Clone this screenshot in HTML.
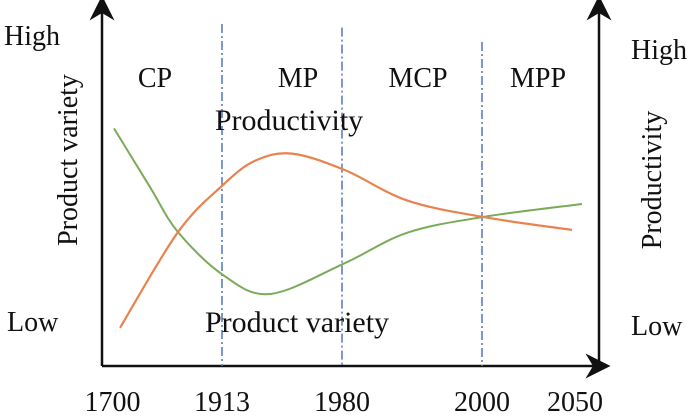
<!DOCTYPE html>
<html><head><meta charset="utf-8"><style>
body{margin:0;background:#fff;}
svg{display:block;font-family:"Liberation Serif",serif;}
</style></head><body>
<svg width="693" height="420" viewBox="0 0 693 420">
<defs><marker id="ar" markerWidth="10" markerHeight="10" refX="5" refY="5" orient="auto"><path d="M0,0 L10,5 L0,10 L3,5 Z" fill="#111"/></marker></defs>
<g id="axes">
<line x1="102" y1="366" x2="102" y2="8" stroke="#111" stroke-width="2.5" marker-end="url(#ar)"/>
<line x1="599" y1="366" x2="599" y2="8" stroke="#111" stroke-width="2.5" marker-end="url(#ar)"/>
<line x1="102" y1="366" x2="598" y2="366" stroke="#111" stroke-width="2.5" marker-end="url(#ar)"/>
</g>
<g id="dividers"></g>
<g id="ticks" font-size="28" fill="#111" text-anchor="middle"></g>
<g id="periods" font-size="28" fill="#111" text-anchor="middle"></g>
<g id="series"></g>
<g font-size="28" fill="#111">
<text x="4" y="45">High</text>
<text x="7" y="331">Low</text>
<text transform="translate(77,160) rotate(-90)" text-anchor="middle">Product variety</text>
<text x="631" y="59">High</text>
<text x="631" y="335">Low</text>
<text transform="translate(661,180) rotate(-90)" text-anchor="middle">Productivity</text>
<text x="289" y="130" text-anchor="middle" font-size="30">Productivity</text>
<text x="297" y="332" text-anchor="middle" font-size="30">Product variety</text>
</g>
</svg>
<script>
const tickLabels=["1700","1913","1980","2000","2050"];
const tickPos=[2.5,24.4,48.4,76.4,95];
const dividerPos=[24.4,48.4,76.4];
const dividerTop=[95,94,90];
const periods=["CP","MP","MCP","MPP"];
const periodPos=[11,39.6,63.6,87.6];
const prodT=[4,15.6,24.6,31,38.4,49,61.4,76.6,94.4];
const prodV=[10.6,37.2,50.3,57,59,54.4,46,41.4,37.8];
const varT=[2.8,10,15.6,24.6,34,49,61.4,76.6,96.4];
const varV=[66,49.7,37.2,25.3,20,28.6,37,41.4,45];
const X=t=>100+5*t, Y=v=>366-3.6*v;
const NS="http://www.w3.org/2000/svg";
function mk(tag,attrs,parent){const e=document.createElementNS(NS,tag);for(const k in attrs)e.setAttribute(k,attrs[k]);parent.appendChild(e);return e;}
const dv=document.getElementById('dividers');
dividerPos.forEach((t,i)=>{const l=mk('line',{x1:X(t),x2:X(t),y1:Y(dividerTop[i]),y2:366,stroke:'#5b7fc0','stroke-width':1.6,'stroke-dasharray':'9,3,2,3'},dv);

});
const tk=document.getElementById('ticks');
tickLabels.forEach((s,i)=>{const e=mk('text',{x:X(tickPos[i]),y:411},tk);e.textContent=s;

});
const pg=document.getElementById('periods');
periods.forEach((s,i)=>{const e=mk('text',{x:X(periodPos[i]),y:87},pg);e.textContent=s;

});
function path(ts,vs){const p=ts.map((t,i)=>[X(t),Y(vs[i])]);let d=`M${p[0][0]},${p[0][1]}`;
for(let i=0;i<p.length-1;i++){const p0=p[i-1]||p[i],p1=p[i],p2=p[i+1],p3=p[i+2]||p2;
d+=` C${p1[0]+(p2[0]-p0[0])/6},${p1[1]+(p2[1]-p0[1])/6} ${p2[0]-(p3[0]-p1[0])/6},${p2[1]-(p3[1]-p1[1])/6} ${p2[0]},${p2[1]}`;}return d;}
const sg=document.getElementById('series');
const g1=mk('path',{d:path(varT,varV),fill:'none',stroke:'#7aab5a','stroke-width':2},sg);


const o1=mk('path',{d:path(prodT,prodV),fill:'none',stroke:'#e8834e','stroke-width':2.2},sg);


</script>
</body></html>
